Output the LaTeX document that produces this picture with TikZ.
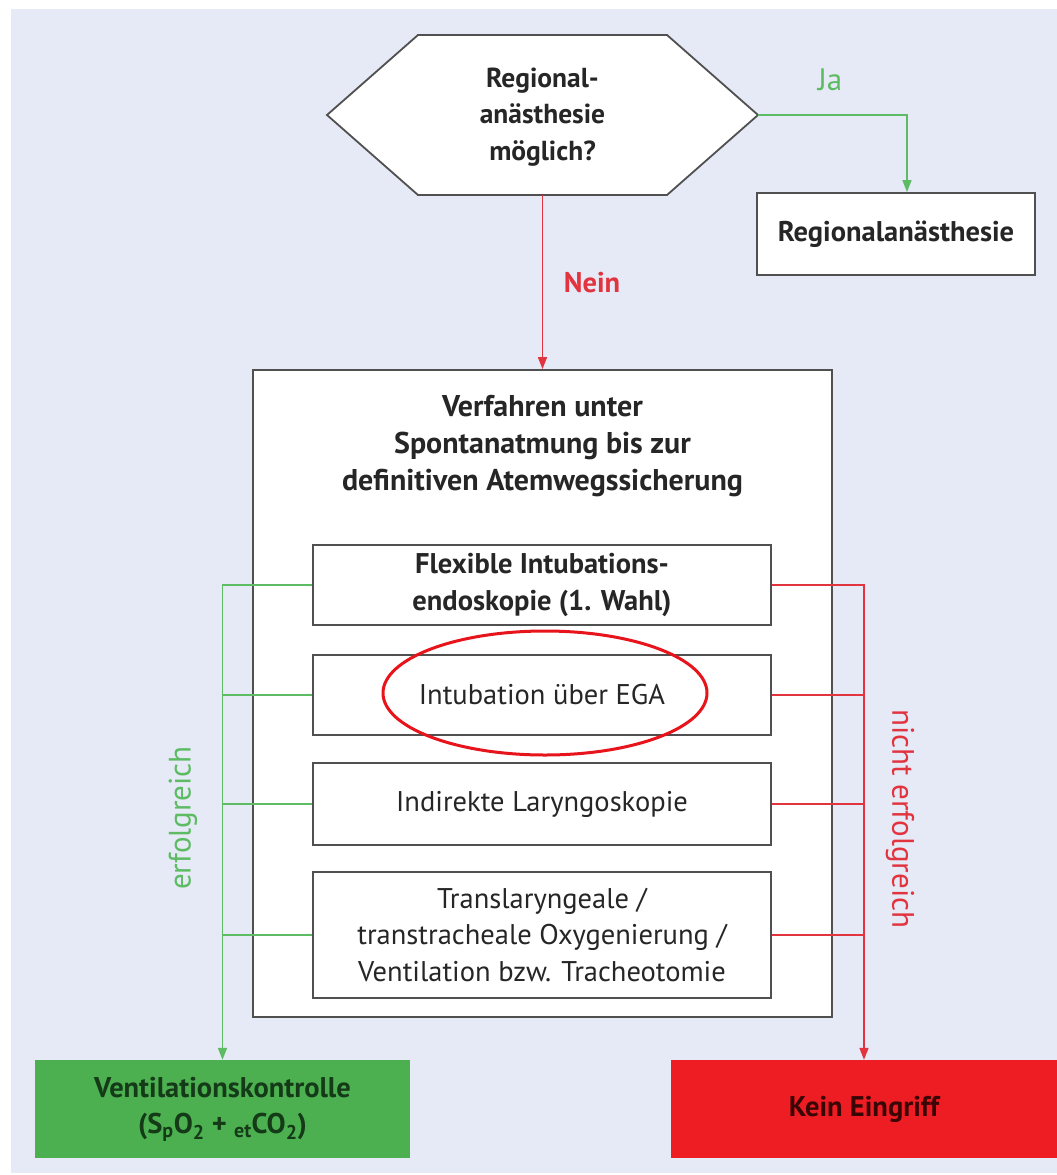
\documentclass[tikz,border=0pt]{standalone}
\usepackage{fontspec}
\setmainfont{PT Sans}
\usetikzlibrary{arrows.meta,shapes.geometric}
\definecolor{bgc}{HTML}{E6EAF6}
\definecolor{boxgray}{HTML}{505050}
\definecolor{gline}{HTML}{5DBB63}
\definecolor{rline}{HTML}{E2343F}
\definecolor{gfill}{HTML}{4CB050}
\definecolor{rfill}{HTML}{EE1D23}
\definecolor{gtext}{HTML}{143A18}
\definecolor{rtext}{HTML}{3A0505}
\definecolor{ell}{HTML}{E8141C}
\begin{document}
\begin{tikzpicture}[x=1pt,y=-1pt,
  box/.style={draw=boxgray, line width=1.8pt, fill=white, inner sep=0pt, align=center, text=black!85},
  txt/.style={font=\fontsize{28.5}{36.5}\selectfont},
  btxt/.style={font=\fontsize{28.5}{36.5}\selectfont\bfseries},
  lbl/.style={font=\fontsize{31}{36}\selectfont},
  gconn/.style={draw=gline, line width=1.6pt},
  rconn/.style={draw=rline, line width=1.6pt},
  tip/.style={-{Triangle[length=12pt,width=9pt]}}
]
\useasboundingbox (0,0) rectangle (1057,1175);
\fill[bgc] (11,9) rectangle (1057,1173);

% decision hexagon
\draw[draw=boxgray, line width=1.8pt, fill=white]
  (327,115) -- (418,35) -- (667,35) -- (758,115) -- (667,195) -- (418,195) -- cycle;
\coordinate (hexR) at (758,115);
\coordinate (hexB) at (542.5,195);
\node[align=center, text=black!85, font=\fontsize{27.5}{36.5}\selectfont\bfseries] (hex) at (542.5,117) {Regional-\\anästhesie\\möglich?};

% Regionalanaesthesie
\node[box, btxt, minimum width=278pt, minimum height=82pt] (reg) at (896,234) {Regionalanästhesie};

% big box
\node[box, minimum width=579pt, minimum height=647pt] (big) at (542.5,693.5) {};
\node[align=center, text=black!85, font=\fontsize{30}{37}\selectfont\bfseries] (title) at (542.5,446) {Verfahren unter\\Spontanatmung bis zur\\definitiven Atemwegssicherung};

% inner boxes
\node[box, btxt, minimum width=458pt, minimum height=80pt] (b1) at (542,585) {Flexible Intubations-\\endoskopie (1. Wahl)};
\node[box, txt, minimum width=458pt, minimum height=80pt] (b2) at (542,695) {Intubation über EGA};
\node[box, txt, minimum width=458pt, minimum height=82pt] (b3) at (542,804) {Indirekte Laryngoskopie};
\node[box, txt, minimum width=458pt, minimum height=126pt] (b4) at (542,935) {Translaryngeale /\\transtracheale Oxygenierung /\\Ventilation bzw. Tracheotomie};

% highlight ellipse
\node[draw=ell, line width=3pt, ellipse, minimum width=324pt, minimum height=124pt, inner sep=0pt] (hl) at (545,693) {};

% result boxes
\node[fill=gfill, minimum width=375pt, minimum height=98pt, inner sep=0pt, align=center, text=gtext, btxt] (gbox) at (222.5,1109) {Ventilationskontrolle\\(S\textsubscript{p}O\textsubscript{2} + \textsubscript{et}CO\textsubscript{2})};
\node[fill=rfill, minimum width=386pt, minimum height=98pt, inner sep=0pt, align=center, text=rtext, btxt] (rbox) at (864,1109) {Kein Eingriff};

% connectors top
\draw[rconn, tip] (hexB) -- (big.north);
\draw[gconn, tip] (hexR) -| ([xshift=11pt]reg.north);
\node[lbl, text=gline] (ja) at (830,80) {Ja};
\node[btxt, text=rline] (nein) at (592,283) {Nein};

% success branch
\draw[gconn, tip] (b1.west) -| (gbox.north);
\draw[gconn] (b2.west) -- (b2.west -| gbox.north);
\draw[gconn] (b3.west) -- (b3.west -| gbox.north);
\draw[gconn] (b4.west) -- (b4.west -| gbox.north);
\node[lbl, text=gline, rotate=90] (erf) at (183,818) {erfolgreich};

% failure branch
\draw[rconn, tip] (b1.east) -| (rbox.north);
\draw[rconn] (b2.east) -- (b2.east -| rbox.north);
\draw[rconn] (b3.east) -- (b3.east -| rbox.north);
\draw[rconn] (b4.east) -- (b4.east -| rbox.north);
\node[lbl, text=rline, rotate=-90] (nerf) at (900,819) {nicht erfolgreich};
\end{tikzpicture}
\end{document}
